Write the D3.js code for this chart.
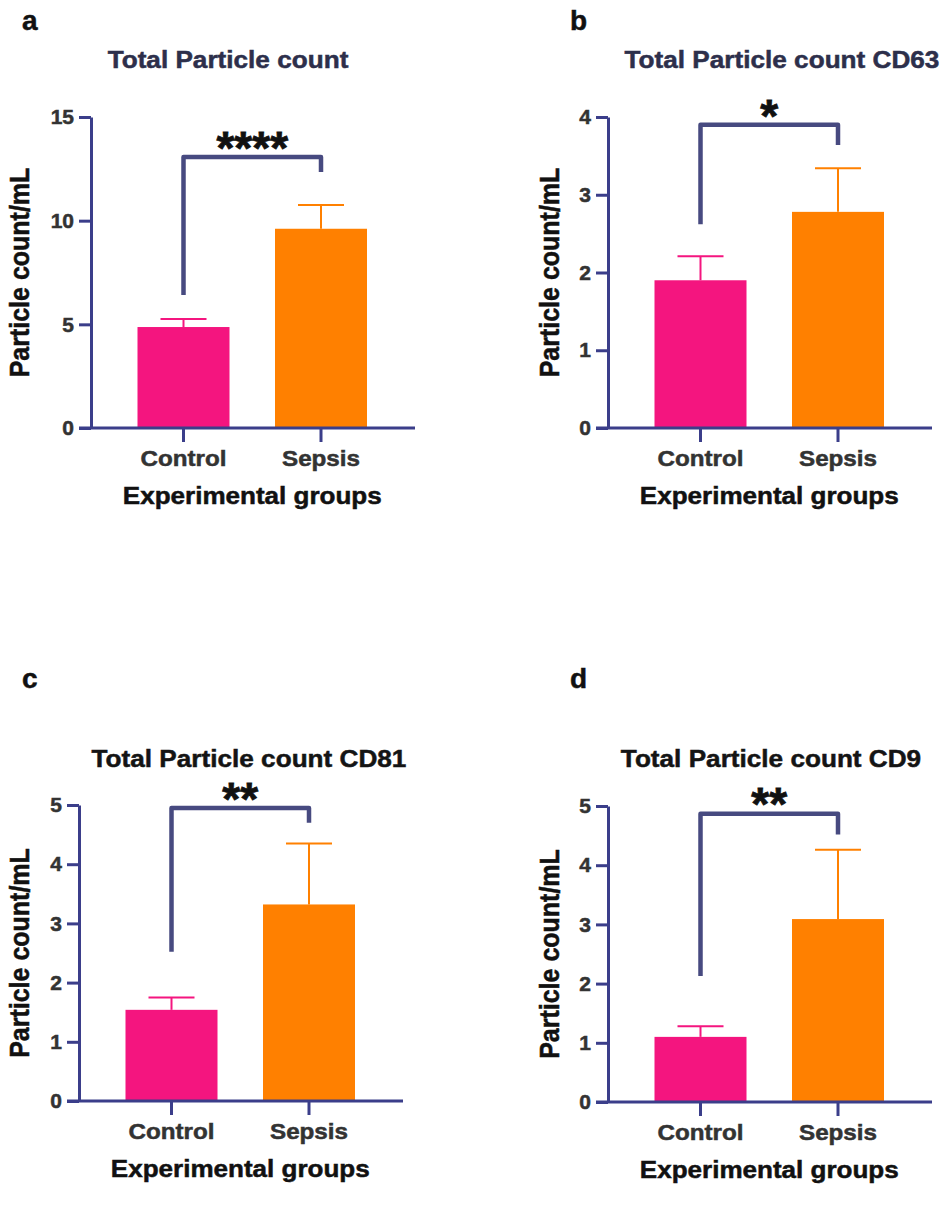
<!DOCTYPE html>
<html>
<head>
<meta charset="utf-8">
<script src="https://cdn.jsdelivr.net/npm/d3@7"></script>
<style>
  html, body { margin: 0; padding: 0; background: #fff; }
  svg { display: block; }
  text { font-family: "Liberation Sans", Arial, Helvetica, sans-serif; font-weight: bold; }
</style>
</head>
<body>
<svg id="chart" width="943" height="1228"></svg>
<script>
// ---------------- data ----------------
const panelLetters = ["a", "b", "c", "d"];
const panelTitles = ["Total Particle count", "Total Particle count CD63", "Total Particle count CD81", "Total Particle count CD9"];
const groups = ["Control", "Sepsis"];
const controlMean = [4.87, 1.90, 1.54, 1.10];
const sepsisMean = [9.61, 2.78, 3.32, 3.09];
const controlErrTop = [5.26, 2.21, 1.75, 1.28];
const sepsisErrTop = [10.75, 3.34, 4.35, 4.26];
const yMax = [15, 4, 5, 5];
const yTickValues = [[0, 5, 10, 15], [0, 1, 2, 3, 4], [0, 1, 2, 3, 4, 5], [0, 1, 2, 3, 4, 5]];
const sigLabels = ["****", "*", "**", "**"];
const bracketLeftEnd = [6.41, 2.62, 2.52, 2.13];
const bracketTopValue = [13.07, 3.90, 4.95, 4.87];
const bracketRightEnd = [12.35, 3.64, 4.70, 4.52];
const xAxisTitle = "Experimental groups";
const yAxisTitle = "Particle count/mL";

// ---------------- layout / style ----------------
const layout = [
  { axisX: 91,  yTop: 117, yZero: 428,  titleX: 228, titleY: 68,  letterX: 22,  letterY: 30,  yTitleOff: 62.5, titleColor: "#2d2f4b" },
  { axisX: 608, yTop: 117, yZero: 428,  titleX: 782, titleY: 68,  letterX: 570, letterY: 30,  yTitleOff: 49.5, titleColor: "#2d2f4b" },
  { axisX: 79,  yTop: 805, yZero: 1101, titleX: 249, titleY: 767, letterX: 22,  letterY: 688, yTitleOff: 50.5, titleColor: "#141414" },
  { axisX: 608, yTop: 806, yZero: 1102, titleX: 771, titleY: 767, letterX: 570, letterY: 688, yTitleOff: 49.5, titleColor: "#141414" }
];
const barColors = ["#F4157F", "#FF8000"];
const axisColor = "#3b3e8a";
const bracketColor = "#474a80";
const plotWidth = 324;
const centerOffsets = [92.5, 230];
const barWidth = 92;

const svg = d3.select("#chart");

function txt(g, x, y, str, opt) {
  const col = opt.color || "#111";
  const t = g.append("text")
    .attr("transform", `translate(${x},${y}) scale(${opt.sx || 1},1)` + (opt.rotate ? ` rotate(${opt.rotate})` : ""))
    .attr("text-anchor", opt.anchor || "middle")
    .style("font-size", opt.size + "px")
    .style("fill", col)
    .style("stroke", col).style("stroke-width", opt.stroke == null ? 0.5 : opt.stroke)
    .text(str);
  return t;
}

panelLetters.forEach((letter, i) => {
  const L = layout[i];
  const g = svg.append("g");

  const y = d3.scaleLinear().domain([0, yMax[i]]).range([L.yZero, L.yTop]);
  const c0 = L.axisX + centerOffsets[0], c1 = L.axisX + centerOffsets[1];
  const step = c1 - c0;
  const pad = (step - barWidth) / step;
  const x = d3.scaleBand().domain(groups)
    .range([c0 - step / 2, c1 + step / 2])
    .paddingInner(pad).paddingOuter(pad / 2);

  // bars
  const means = [controlMean[i], sepsisMean[i]];
  const tops = [controlErrTop[i], sepsisErrTop[i]];
  const rows = groups.map((gname, k) => ({ g: gname, mean: means[k], top: tops[k], color: barColors[k] }));

  g.selectAll("rect.bar").data(rows).enter().append("rect")
    .attr("class", "bar")
    .attr("x", d => x(d.g))
    .attr("width", x.bandwidth())
    .attr("y", d => y(d.mean))
    .attr("height", d => y(0) - y(d.mean))
    .attr("fill", d => d.color);

  // error bars
  const capHalf = x.bandwidth() / 4;
  g.selectAll("line.err").data(rows).enter().append("line")
    .attr("x1", d => x(d.g) + x.bandwidth() / 2)
    .attr("x2", d => x(d.g) + x.bandwidth() / 2)
    .attr("y1", d => y(d.mean))
    .attr("y2", d => y(d.top))
    .attr("stroke", d => d.color).attr("stroke-width", 2);
  g.selectAll("line.cap").data(rows).enter().append("line")
    .attr("x1", d => x(d.g) + x.bandwidth() / 2 - capHalf)
    .attr("x2", d => x(d.g) + x.bandwidth() / 2 + capHalf)
    .attr("y1", d => y(d.top))
    .attr("y2", d => y(d.top))
    .attr("stroke", d => d.color).attr("stroke-width", 2);

  // y axis
  const yAxis = g.append("g")
    .attr("transform", `translate(${L.axisX},0)`)
    .call(d3.axisLeft(y).tickValues(yTickValues[i]).tickFormat(d3.format("d"))
      .tickSize(12).tickSizeOuter(0).tickPadding(5));
  yAxis.select(".domain").attr("stroke", axisColor).attr("stroke-width", 3);
  yAxis.selectAll(".tick line").attr("stroke", axisColor).attr("stroke-width", 3);
  yAxis.selectAll(".tick text")
    .style("font-size", "21px").style("fill", "#333").style("stroke", "#333").style("stroke-width", 0.5)
    .style("font-family", "'Liberation Sans', Arial, sans-serif").style("font-weight", "bold");

  // x axis
  const xAxis = g.append("g")
    .attr("transform", `translate(0,${L.yZero})`)
    .call(d3.axisBottom(x).tickSize(14).tickSizeOuter(0).tickPadding(8));
  xAxis.select(".domain").remove();
  xAxis.selectAll(".tick line").attr("stroke", axisColor).attr("stroke-width", 3);
  xAxis.selectAll(".tick text")
    .attr("transform", "scale(1.1,1)")
    .style("font-size", "22px").style("fill", "#333").style("stroke", "#333").style("stroke-width", 0.5)
    .style("font-family", "'Liberation Sans', Arial, sans-serif").style("font-weight", "bold");
  g.append("line")
    .attr("x1", L.axisX - 12).attr("x2", L.axisX + plotWidth)
    .attr("y1", L.yZero).attr("y2", L.yZero)
    .attr("stroke", axisColor).attr("stroke-width", 3);

  // significance bracket
  const bx0 = x("Control") + x.bandwidth() / 2;
  const bx1 = x("Sepsis") + x.bandwidth() / 2;
  const path = d3.path();
  path.moveTo(bx0, y(bracketLeftEnd[i]));
  path.lineTo(bx0, y(bracketTopValue[i]));
  path.lineTo(bx1, y(bracketTopValue[i]));
  path.lineTo(bx1, y(bracketRightEnd[i]));
  g.append("path").attr("d", path.toString())
    .attr("fill", "none").attr("stroke", bracketColor)
    .attr("stroke-width", 4.5).attr("stroke-linejoin", "round");

  txt(g, (bx0 + bx1) / 2, y(bracketTopValue[i]) - 19 + 0.56 * 46, sigLabels[i], { size: 46, color: "#111", stroke: 0.8 });

  // titles
  txt(g, L.titleX, L.titleY, panelTitles[i], { size: 24, sx: 1.09, color: L.titleColor });
  txt(g, L.letterX, L.letterY, letter, { size: 28, anchor: "start", color: "#111" });
  txt(g, (c0 + c1) / 2, L.yZero + 76, xAxisTitle, { size: 24, sx: 1.085, color: "#111" });
  txt(g, L.axisX - L.yTitleOff, (L.yZero + L.yTop) / 2, yAxisTitle, { size: 25, sx: 1.1, rotate: -90, color: "#111" });
});
</script>
</body>
</html>
